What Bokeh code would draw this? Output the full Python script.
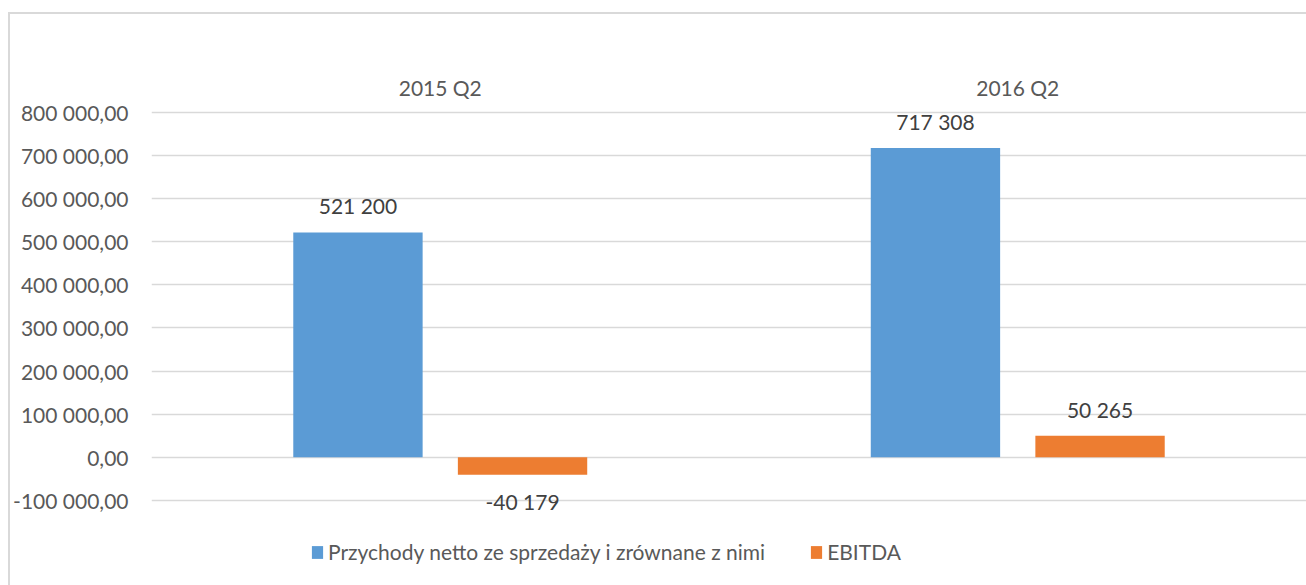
from bokeh.plotting import figure
from bokeh.models import (ColumnDataSource, FactorRange, FixedTicker, CustomJSTickFormatter,
                          Legend, LegendItem, InlineStyleSheet, Range1d)
from bokeh.transform import dodge
from bokeh.core.properties import value
from bokeh.embed import file_html
from bokeh.resources import INLINE

categories = ["2015 Q2", "2016 Q2"]
revenue = [521200, 717308]
ebitda = [-40179, 50265]
series_names = ["Przychody netto ze sprzedaży i zrównane z nimi", "EBITDA"]
y_ticks = [-100000, 0, 100000, 200000, 300000, 400000, 500000, 600000, 700000, 800000]

BLUE = "#5b9bd5"
ORANGE = "#ed7d31"
FONT = "Lato"

def fmt(v):
    s = f"{abs(v):,.0f}".replace(",", " ")
    return ("-" if v < 0 else "") + s

def offsets(vals):
    return [-26.5 if v >= 0 else 27 for v in vals]

src = ColumnDataSource(dict(
    cat=categories,
    rev=revenue,
    ebt=ebitda,
    rev_lbl=[fmt(v) for v in revenue],
    ebt_lbl=[fmt(v) for v in ebitda],
    rev_off=offsets(revenue),
    ebt_off=offsets(ebitda),
))

# plot frame extends below the -100 000 gridline so that labels and legend are not clipped
p = figure(width=1306, height=585, output_backend="svg", toolbar_location=None,
           x_range=FactorRange(factors=categories, range_padding=0),
           y_range=Range1d(-297000, 808600), x_axis_location="above",
           min_border_left=151, min_border_right=0, min_border_top=108, min_border_bottom=0)
p.outline_line_color = None
p.background_fill_color = "white"
p.border_fill_color = "white"

W = 0.224
D = 0.1425
r1 = p.vbar(x=dodge("cat", -D, range=p.x_range), top="rev", bottom=0, width=W, source=src,
            fill_color=BLUE, line_color=None)
r2 = p.vbar(x=dodge("cat", D, range=p.x_range), top="ebt", bottom=0, width=W, source=src,
            fill_color=ORANGE, line_color=None)

p.text(x=dodge("cat", -D, range=p.x_range), y="rev", text="rev_lbl", y_offset="rev_off", source=src,
       text_align="center", text_baseline="middle", text_font=value(FONT),
       text_font_size="21px", text_color="#404040")
p.text(x=dodge("cat", D, range=p.x_range), y="ebt", text="ebt_lbl", y_offset="ebt_off", source=src,
       text_align="center", text_baseline="middle", text_font=value(FONT),
       text_font_size="21px", text_color="#404040")

# axes
p.yaxis.ticker = FixedTicker(ticks=y_ticks)
p.yaxis.formatter = CustomJSTickFormatter(code="""
const s = Math.abs(tick).toFixed(0).replace(/\\B(?=(\\d{3})+(?!\\d))/g, " ");
return (tick < 0 ? "-" : "") + s + ",00";
""")
for ax in (p.yaxis[0], p.xaxis[0]):
    ax.axis_line_color = None
    ax.major_tick_line_color = None
    ax.minor_tick_line_color = None
    ax.major_tick_out = 0
    ax.major_tick_in = 0
    ax.minor_tick_out = 0
    ax.major_label_text_font = FONT
    ax.major_label_text_font_size = "21px"
    ax.major_label_text_color = "#595959"
p.yaxis.major_label_standoff = 23
p.xaxis.major_label_standoff = 9

p.xgrid.grid_line_color = None
p.ygrid.grid_line_color = "#d9d9d9"
p.ygrid.grid_line_width = 1.5

legend = Legend(items=[LegendItem(label=series_names[0], renderers=[r1]),
                       LegendItem(label=series_names[1], renderers=[r2])],
                orientation="horizontal", location=(159, 21))
legend.border_line_color = None
legend.background_fill_alpha = 0
legend.padding = 0
legend.margin = 0
legend.spacing = 44
legend.label_standoff = 4
legend.glyph_width = 14
legend.glyph_height = 16
legend.label_height = 21
legend.label_text_font = FONT
legend.label_text_font_size = "21px"
legend.label_text_color = "#595959"
p.add_layout(legend, "center")

# light chart-area border (top and left edges visible; right/bottom fall outside the picture)
p.stylesheets = [InlineStyleSheet(css="""
:host { position: relative; overflow: hidden; }
:host::after {
  content: ""; position: absolute; left: 8px; top: 12px;
  width: calc(100% + 20px); height: calc(100% + 20px);
  border: 2px solid #d9d9d9; box-sizing: border-box;
  pointer-events: none; z-index: 100;
}
""")]

open("out.html", "w").write(file_html(p, INLINE))
